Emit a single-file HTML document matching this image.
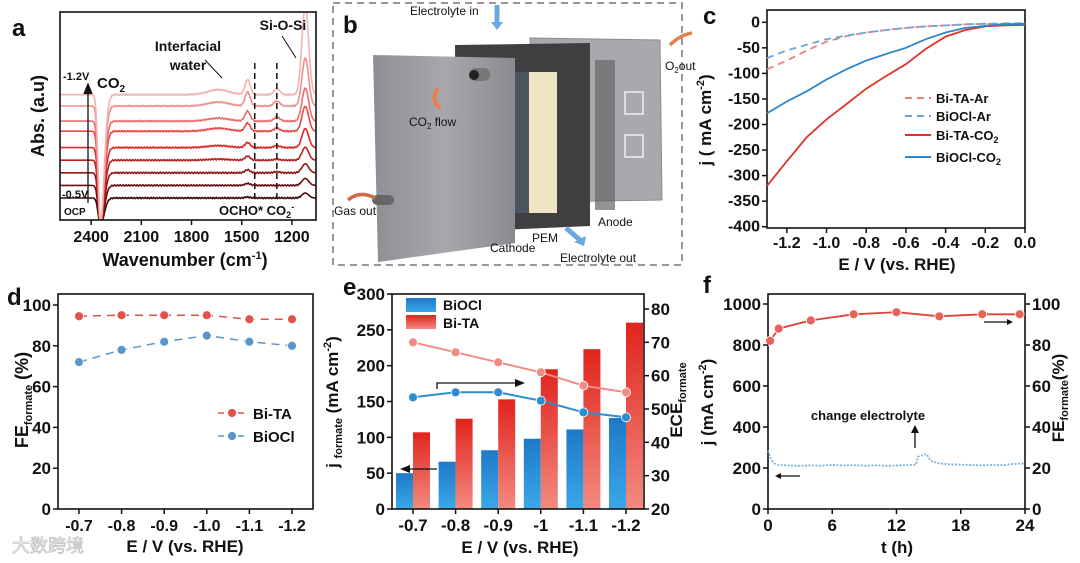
<!DOCTYPE html>
<html><head><meta charset="utf-8">
<style>
html,body{margin:0;padding:0;background:#fff;}
svg{display:block;font-family:"Liberation Sans","Noto Sans CJK SC",sans-serif;}
text{font-weight:bold;fill:#111;}
</style></head>
<body>
<svg id="fig" width="1080" height="563" viewBox="0 0 1080 563" xmlns="http://www.w3.org/2000/svg">
<defs>
<linearGradient id="gBlue" x1="0" y1="0" x2="0" y2="1"><stop offset="0" stop-color="#1f78c8"/><stop offset="1" stop-color="#3aa8e8"/></linearGradient>
<linearGradient id="gRed" x1="0" y1="0" x2="0" y2="1"><stop offset="0" stop-color="#e0241c"/><stop offset="1" stop-color="#f48a80"/></linearGradient>
<linearGradient id="gPlate" x1="0" y1="0" x2="1" y2="0"><stop offset="0" stop-color="#8e8e94"/><stop offset="0.5" stop-color="#a7a7ac"/><stop offset="1" stop-color="#8a8a90"/></linearGradient>
<clipPath id="clipA"><rect x="60" y="12" width="256" height="208"/></clipPath>
</defs>
<g>
<rect x="333" y="3" width="349" height="262" fill="none" stroke="#777" stroke-width="1.5" stroke-dasharray="7,5"/>
<polygon points="530,38 660,40 662,200 540,202" fill="#a8a8ad" stroke="#8a8a90"/>
<rect x="625" y="92" width="18" height="22" fill="none" stroke="#eee" stroke-width="1.5"/>
<rect x="625" y="135" width="18" height="22" fill="none" stroke="#eee" stroke-width="1.5"/>
<rect x="595" y="60" width="20" height="150" fill="#666" opacity="0.7"/>
<polygon points="455,45 590,43 590,226 456,232" fill="#3f3f42"/>
<rect x="529" y="72" width="28" height="141" fill="#efe4c4"/>
<rect x="515" y="72" width="14" height="141" fill="#4a5560"/>
<polygon points="373,55 515,58 515,243 378,262" fill="url(#gPlate)"/>
<rect x="470" y="68" width="20" height="13" rx="6" fill="#777"/><circle cx="474" cy="75" r="5" fill="#222"/>
<rect x="372" y="195" width="22" height="10" rx="5" fill="#666"/>
<path d="M438,88 Q430,100 440,108" stroke="#e8804e" stroke-width="4" fill="none"/>
<path d="M375,198 Q360,190 348,200" stroke="#d56a4a" stroke-width="3.5" fill="none"/>
<path d="M670,45 Q680,35 692,33" stroke="#e8804e" stroke-width="3.5" fill="none"/>
<path d="M497,5 L497,25" stroke="#6aa8e0" stroke-width="5"/><polygon points="491,22 503,22 497,30" fill="#6aa8e0"/>
<path d="M566,228 L580,240" stroke="#6aa8e0" stroke-width="5"/><polygon points="574,242 586,236 584,246" fill="#6aa8e0"/>
<text x="410" y="15" font-size="12" style="font-weight:normal" fill="#555">Electrolyte in</text>
<text x="409" y="126" font-size="12" style="font-weight:normal" fill="#555">CO<tspan font-size="8" dy="3">2</tspan><tspan dy="-3"> flow</tspan></text>
<text x="334" y="215" font-size="12" style="font-weight:normal" fill="#555">Gas out</text>
<text x="490" y="252" font-size="12" style="font-weight:normal" fill="#555">Cathode</text>
<text x="532" y="242" font-size="12" style="font-weight:normal" fill="#555">PEM</text>
<text x="598" y="226" font-size="12" style="font-weight:normal" fill="#555">Anode</text>
<text x="560" y="262" font-size="12" style="font-weight:normal" fill="#555">Electrolyte out</text>
<text x="665" y="70" font-size="12" style="font-weight:normal" fill="#555">O<tspan font-size="8" dy="3">2</tspan><tspan dy="-3">out</tspan></text>
</g>
</svg>
<script>
// ---------- DATA ----------
const aOffsets = [0, 1, 2, 3, 4, 5.3, 6.1, 7.3, 8.2];
const aDip = [27, 40, 52, 63, 75, 92, 102, 118, 130];
const aPeak1450 = [1, 2, 3, 4, 5, 8, 10, 14, 15];
const aPeak1290 = [0, 0, 1, 1, 2, 3, 4, 5, 6];
const aPeakSiO = [5, 7, 9, 13, 19, 25, 33, 48, 90];
const aHump = [0, 0, 0, 1, 2, 3, 3, 4, 5];
const aXTicks = [2400, 2100, 1800, 1500, 1200];
const cE = [-1.3, -1.2, -1.1, -1.0, -0.9, -0.8, -0.7, -0.6, -0.5, -0.4, -0.3, -0.2, -0.1, 0];
const cBiTACO2 = [-320, -272, -225, -190, -160, -130, -105, -82, -52, -28, -15, -8, -6, -5];
const cBiOClCO2 = [-178, -155, -135, -112, -92, -75, -62, -50, -33, -20, -11, -7, -4, -3];
const cBiTAAr = [-92, -75, -55, -38, -27, -20, -15, -11, -8, -6, -4, -3, -3, -3];
const cBiOClAr = [-70, -55, -44, -33, -26, -20, -15, -11, -8, -6, -4, -3, -2, -2];
const cYTicks = [0, -50, -100, -150, -200, -250, -300, -350, -400];
const cXTicks = [-1.2, -1.0, -0.8, -0.6, -0.4, -0.2, 0.0];
const dCats = ['-0.7', '-0.8', '-0.9', '-1.0', '-1.1', '-1.2'];
const dBiTA = [94.5, 95, 95, 95, 93, 93];
const dBiOCl = [72, 78, 82, 85, 82, 80];
const dYTicks = [0, 20, 40, 60, 80, 100];
const eCats = ['-0.7', '-0.8', '-0.9', '-1', '-1.1', '-1.2'];
const eJBiOCl = [50, 66, 82, 98, 111, 127];
const eJBiTA = [107, 126, 153, 195, 223, 260];
const eECEBiTA = [70, 67, 64, 61, 57, 55];
const eECEBiOCl = [53.5, 55, 55, 52.5, 49, 47.5];
const eYTicks = [0, 50, 100, 150, 200, 250, 300];
const eY2Ticks = [20, 30, 40, 50, 60, 70, 80];
const fTFE = [0.2, 1, 4, 8, 12, 16, 20, 23.5];
const fFE = [82, 88, 92, 95, 96, 94, 95, 95];
const fTj = [0, 0.3, 0.6, 1, 2, 3, 4, 5, 6, 7, 8, 9, 10, 11, 12, 13, 13.8, 14, 14.4, 14.8, 15.2, 16, 17, 18, 19, 20, 21, 22, 23, 24];
const fJ = [285, 240, 222, 215, 212, 210, 213, 211, 215, 212, 214, 211, 213, 210, 212, 214, 215, 255, 262, 268, 235, 222, 218, 216, 214, 213, 215, 214, 220, 222];
const fXTicks = [0, 6, 12, 18, 24];
const fYTicks = [0, 200, 400, 600, 800, 1000];
const fY2Ticks = [0, 20, 40, 60, 80, 100];

// ---------- HELPERS ----------
const NS = 'http://www.w3.org/2000/svg';
const svg = document.getElementById('fig');
function mk(tag, attrs, parent) {
  const e = document.createElementNS(NS, tag);
  for (const k in attrs) e.setAttribute(k, attrs[k]);
  (parent || svg).appendChild(e);
  return e;
}
function lin(d0, d1, r0, r1) { return v => r0 + (v - d0) * (r1 - r0) / (d1 - d0); }
function txt(x, y, s, size, anchor, parent) {
  const t = mk('text', { x: x, y: y, 'font-size': size, 'text-anchor': anchor || 'middle' }, parent);
  t.textContent = s;
  return t;
}
function frame(x0, y0, x1, y1, g) {
  const r = mk('rect', { x: x0, y: y0, width: x1 - x0, height: y1 - y0, fill: 'none', stroke: '#111', 'stroke-width': 1.6 }, g);
  
  
}
function pathD(xs, ys, sx, sy) { return xs.map((v, i) => (i ? 'L' : 'M') + sx(v).toFixed(1) + ',' + sy(ys[i]).toFixed(1)).join(' '); }
function group(name) {
  const g = mk('g', {});
  
  
  return g;
}
function label(x, y, s, size, anchor, g, name) {
  const t = txt(x, y, s, size, anchor, g);
  
  
  return t;
}
function rotTitle(x, y, html, size, g, name) {
  const t = mk('text', { x: 0, y: 0, 'font-size': size, 'text-anchor': 'middle', transform: 'translate(' + x + ',' + y + ') rotate(-90)' }, g);
  t.innerHTML = html;
  
  
  return t;
}
function marker(cx, cy, fill, g, name) {
  const c = mk('circle', { cx: cx, cy: cy, r: 4.5, fill: fill, stroke: '#fff', 'stroke-width': 0.8 }, g);
  
  
}

// ---------- PANEL A ----------
(function () {
  const g = group('panel-a-ftir');
  const sx = lin(2586, 1056, 60, 316);
  const gs = (x, c, w) => Math.exp(-((x - c) / w) * ((x - c) / w));
  const cg = mk('g', { 'clip-path': 'url(#clipA)' }, g);
  const n = aOffsets.length;
  for (let i = 0; i < n; i++) {
    const base = 198 - aOffsets[i] * 12.6;
    const t = i / (n - 1);
    let r, gg, b;
    if (t < 0.5) { const u = t / 0.5; r = 60 + u * 165; gg = 8 + u * 30; b = 8 + u * 30; }
    else { const u = (t - 0.5) / 0.5; r = 225 + u * 17; gg = 38 + u * 140; b = 38 + u * 140; }
    let d = '';
    for (let w = 2586; w >= 1056; w -= 5) {
      const dip = w > 2345 ? aDip[i] * gs(w, 2345, 18) : aDip[i] * gs(w, 2345, 32);
      const y = base + dip - aPeak1450[i] * gs(w, 1465, 22) - aPeak1290[i] * gs(w, 1290, 25)
        - aPeakSiO[i] * gs(w, 1120, 28) - aHump[i] * gs(w, 1640, 90) - (w < 2300 && w > 1150 ? 0.6 * Math.sin(w * 0.37 + i) : 0);
      d += (d ? 'L' : 'M') + sx(w).toFixed(1) + ',' + y.toFixed(1);
    }
    const p = mk('path', { d: d, fill: 'none', stroke: 'rgb(' + Math.round(r) + ',' + Math.round(gg) + ',' + Math.round(b) + ')', 'stroke-width': 1.6 }, cg);
    
    
  }
  [1422, 1290].forEach(w => {
    const l = mk('line', { x1: sx(w), x2: sx(w), y1: 63, y2: 200, stroke: '#111', 'stroke-width': 1.5, 'stroke-dasharray': '6,4' }, g);
    
    
  });
  frame(60, 12, 316, 220, g);
  aXTicks.forEach(v => {
    mk('line', { x1: sx(v), x2: sx(v), y1: 220, y2: 225, stroke: '#111', 'stroke-width': 1.5 }, g);
    label(sx(v), 242, String(v), 16, 'middle', g, 'x-tick-label');
  });
  const ar = mk('path', { d: 'M88,203 L88,86 M84,94 L88,84 L92,94', stroke: '#111', 'stroke-width': 1.3, fill: '#111' }, g);
  
  
  label(63, 80, '-1.2V', 11, 'start', g, 'label-1.2v');
  label(62, 198, '-0.5V', 11, 'start', g, 'label-0.5v');
  label(64, 215, 'OCP', 10, 'start', g, 'label-ocp');
  const co = label(97, 88, 'CO', 15, 'start', g, 'label-co2');
  co.innerHTML = 'CO<tspan font-size="10" dy="4">2</tspan>';
  label(188, 51, 'Interfacial', 14, 'middle', g, 'label-interfacial');
  label(188, 70, 'water', 14, 'middle', g, 'label-water');
  mk('path', { d: 'M205,60 L222,78', stroke: '#111', 'stroke-width': 1 }, g);
  label(283, 30, 'Si-O-Si', 14, 'middle', g, 'label-sio');
  mk('path', { d: 'M282,36 L296,58', stroke: '#111', 'stroke-width': 1 }, g);
  const oc = label(219, 215, '', 13, 'start', g, 'label-ocho-co2');
  oc.innerHTML = 'OCHO* CO<tspan font-size="9" dy="3">2</tspan><tspan font-size="9" dy="-8">-</tspan>';
  rotTitle(44, 116, 'Abs. (a.u)', 18, g, 'y-axis-title');
  const xt = label(185, 266, '', 18, 'middle', g, 'x-axis-title');
  xt.innerHTML = 'Wavenumber (cm<tspan font-size="11" dy="-7">-1</tspan><tspan dy="7">)</tspan>';
  label(12, 36, 'a', 24, 'start', g, 'panel-label-a');
  label(343, 33, 'b', 24, 'start', g, 'panel-label-b');
})();

// ---------- PANEL C ----------
(function () {
  const g = group('panel-c-lsv');
  const sx = lin(-1.3, 0, 767, 1025);
  const sy = lin(0, -400, 22.3, 226.7);
  frame(767, 10, 1025, 228, g);
  cYTicks.forEach(v => {
    mk('line', { x1: 762, x2: 767, y1: sy(v), y2: sy(v), stroke: '#111', 'stroke-width': 1.5 }, g);
    label(760, sy(v) + 5, String(v), 16, 'end', g, 'y-tick-label');
  });
  cXTicks.forEach(v => {
    mk('line', { x1: sx(v), x2: sx(v), y1: 228, y2: 233, stroke: '#111', 'stroke-width': 1.5 }, g);
    label(sx(v), 248, v.toFixed(1), 16, 'middle', g, 'x-tick-label');
  });
  const series = [[cBiTAAr, '#e88080', '7,5', 'bi-ta-ar-line'], [cBiOClAr, '#6aa6d8', '7,5', 'biocl-ar-line'],
    [cBiTACO2, '#e0342a', '', 'bi-ta-co2-line'], [cBiOClCO2, '#2e86c8', '', 'biocl-co2-line']];
  series.forEach(s => {
    const p = mk('path', { d: pathD(cE, s[0], sx, sy), fill: 'none', stroke: s[1], 'stroke-width': 1.8, 'stroke-dasharray': s[2] }, g);
    
    
  });
  const names = ['Bi-TA-Ar', 'BiOCl-Ar', 'Bi-TA-CO<tspan font-size="9" dy="3">2</tspan>', 'BiOCl-CO<tspan font-size="9" dy="3">2</tspan>'];
  const ly = [98, 116, 135, 157];
  series.forEach((s, i) => {
    const l = mk('line', { x1: 905, x2: 931, y1: ly[i], y2: ly[i], stroke: s[1], 'stroke-width': 2, 'stroke-dasharray': s[2] }, g);
    
    
    const t = label(936, ly[i] + 5, '', 13, 'start', g, 'legend-entry');
    t.innerHTML = names[i];
  });
  const yt = rotTitle(711, 120, '', 17, g, 'y-axis-title');
  yt.innerHTML = 'j ( mA cm<tspan font-size="11" dy="-7">-2</tspan><tspan dy="7">)</tspan>';
  label(897, 270, 'E / V (vs. RHE)', 17, 'middle', g, 'x-axis-title');
  label(703, 24, 'c', 24, 'start', g, 'panel-label-c');
})();

// ---------- PANEL D ----------
(function () {
  const g = group('panel-d-fe');
  const sx = i => 79 + i * 42.6;
  const sy = lin(0, 100, 509, 305);
  frame(58, 294, 313, 509, g);
  dYTicks.forEach(v => {
    mk('line', { x1: 53, x2: 58, y1: sy(v), y2: sy(v), stroke: '#111', 'stroke-width': 1.5 }, g);
    label(51, sy(v) + 6, String(v), 17, 'end', g, 'y-tick-label');
  });
  dCats.forEach((c, i) => {
    mk('line', { x1: sx(i), x2: sx(i), y1: 509, y2: 514, stroke: '#111', 'stroke-width': 1.5 }, g);
    label(sx(i), 531, c, 16, 'middle', g, 'x-tick-label');
  });
  const idx = dCats.map((c, i) => i);
  [[dBiTA, '#e0524a', 'bi-ta-fe'], [dBiOCl, '#5a96cc', 'biocl-fe']].forEach(s => {
    const p = mk('path', { d: pathD(idx, s[0], sx, sy), fill: 'none', stroke: s[1], 'stroke-width': 1.5, 'stroke-dasharray': '8,6' }, g);
    
    
    s[0].forEach((v, i) => marker(sx(i), sy(v), s[1], g, s[2] + '-point'));
  });
  mk('line', { x1: 218, x2: 246, y1: 413, y2: 413, stroke: '#e0524a', 'stroke-width': 1.5, 'stroke-dasharray': '6,4' }, g);
  marker(232, 413, '#e0524a', g, 'legend-marker-bi-ta');
  label(253, 419, 'Bi-TA', 15, 'start', g, 'legend-entry-bi-ta');
  mk('line', { x1: 218, x2: 246, y1: 436, y2: 436, stroke: '#5a96cc', 'stroke-width': 1.5, 'stroke-dasharray': '6,4' }, g);
  marker(232, 436, '#5a96cc', g, 'legend-marker-biocl');
  label(253, 442, 'BiOCl', 15, 'start', g, 'legend-entry-biocl');
  const yt = rotTitle(28, 400, '', 18, g, 'y-axis-title');
  yt.innerHTML = 'FE<tspan font-size="11" dy="4">formate</tspan><tspan dy="-4"> (%)</tspan>';
  label(185, 552, 'E / V (vs. RHE)', 17, 'middle', g, 'x-axis-title');
  label(7, 305, 'd', 24, 'start', g, 'panel-label-d');
  const wm = label(12, 552, '大数跨境', 18, 'start', g, 'watermark');
  wm.setAttribute('stroke', '#bbb');
  wm.setAttribute('stroke-width', '0.8');
  wm.setAttribute('style', 'fill:#fff;font-weight:normal;opacity:0.9');
})();

// ---------- PANEL E ----------
(function () {
  const g = group('panel-e-current-ece');
  const sx = i => 413 + i * 42.6;
  const sy = lin(0, 300, 509, 294);
  const sy2 = lin(20, 80, 509, 309);
  eJBiOCl.forEach((v, i) => {
    const r = mk('rect', { x: sx(i) - 17, y: sy(v), width: 17, height: 509 - sy(v), fill: 'url(#gBlue)' }, g);
    
    
  });
  eJBiTA.forEach((v, i) => {
    const r = mk('rect', { x: sx(i), y: sy(v), width: 17, height: 509 - sy(v), fill: 'url(#gRed)' }, g);
    
    
  });
  const idx = eCats.map((c, i) => i);
  [[eECEBiTA, '#f08c84', 'ece-bi-ta'], [eECEBiOCl, '#2a8ed0', 'ece-biocl']].forEach(s => {
    const p = mk('path', { d: pathD(idx, s[0], sx, sy2), fill: 'none', stroke: s[1], 'stroke-width': 2 }, g);
    
    
    s[0].forEach((v, i) => marker(sx(i), sy2(v), s[1], g, s[2] + '-point'));
  });
  frame(392, 294, 644, 509, g);
  eYTicks.forEach(v => {
    mk('line', { x1: 387, x2: 392, y1: sy(v), y2: sy(v), stroke: '#111', 'stroke-width': 1.5 }, g);
    label(385, sy(v) + 6, String(v), 17, 'end', g, 'y-tick-label');
  });
  eY2Ticks.forEach(v => {
    mk('line', { x1: 644, x2: 649, y1: sy2(v), y2: sy2(v), stroke: '#111', 'stroke-width': 1.5 }, g);
    label(651, sy2(v) + 6, String(v), 17, 'start', g, 'y2-tick-label');
  });
  eCats.forEach((c, i) => {
    mk('line', { x1: sx(i), x2: sx(i), y1: 509, y2: 514, stroke: '#111', 'stroke-width': 1.5 }, g);
    label(sx(i), 531, c, 17, 'middle', g, 'x-tick-label');
  });
  const lb = mk('rect', { x: 406, y: 298, width: 30, height: 14, fill: 'url(#gBlue)' }, g);
  
  
  const lr = mk('rect', { x: 406, y: 315, width: 30, height: 14, fill: 'url(#gRed)' }, g);
  
  
  label(443, 310, 'BiOCl', 14, 'start', g, 'legend-entry-biocl');
  label(443, 328, 'Bi-TA', 14, 'start', g, 'legend-entry-bi-ta');
  mk('path', { d: 'M437,389 L437,383 L515,383', stroke: '#111', 'stroke-width': 1.3, fill: 'none' }, g);
  mk('polygon', { points: '515,379 525,383 515,387', fill: '#111' }, g);
  mk('path', { d: 'M437,469 L410,469', stroke: '#111', 'stroke-width': 1.3 }, g);
  mk('polygon', { points: '410,465 400,469 410,473', fill: '#111' }, g);
  const yt = rotTitle(338, 402, '', 17, g, 'y-axis-title');
  yt.innerHTML = 'j <tspan font-size="11" dy="4">formate</tspan><tspan dy="-4"> (mA cm</tspan><tspan font-size="11" dy="-7">-2</tspan><tspan dy="7">)</tspan>';
  const yt2 = rotTitle(682, 400, '', 17, g, 'y2-axis-title');
  yt2.innerHTML = 'ECE<tspan font-size="11" dy="4">formate</tspan>';
  label(520, 553, 'E / V (vs. RHE)', 17, 'middle', g, 'x-axis-title');
  label(343, 295, 'e', 24, 'start', g, 'panel-label-e');
})();

// ---------- PANEL F ----------
(function () {
  const g = group('panel-f-stability');
  const sx = lin(0, 24, 768, 1025);
  const sy = lin(0, 1000, 509, 304);
  const sy2 = lin(0, 100, 509, 304);
  frame(768, 294, 1025, 509, g);
  const jp = mk('path', { d: pathD(fTj, fJ, sx, sy), fill: 'none', stroke: '#7fb3d8', 'stroke-width': 1.8, 'stroke-dasharray': '2,1.5' }, g);
  
  
  const fp = mk('path', { d: pathD(fTFE, fFE, sx, sy2), fill: 'none', stroke: '#e0423a', 'stroke-width': 1.8 }, g);
  
  
  fFE.forEach((v, i) => marker(sx(fTFE[i]), sy2(v), '#e8625a', g, 'fe-point'));
  fYTicks.forEach(v => {
    mk('line', { x1: 763, x2: 768, y1: sy(v), y2: sy(v), stroke: '#111', 'stroke-width': 1.5 }, g);
    label(761, sy(v) + 6, String(v), 17, 'end', g, 'y-tick-label');
  });
  fY2Ticks.forEach(v => {
    mk('line', { x1: 1025, x2: 1030, y1: sy2(v), y2: sy2(v), stroke: '#111', 'stroke-width': 1.5 }, g);
    label(1032, sy2(v) + 6, String(v), 17, 'start', g, 'y2-tick-label');
  });
  fXTicks.forEach(v => {
    mk('line', { x1: sx(v), x2: sx(v), y1: 509, y2: 514, stroke: '#111', 'stroke-width': 1.5 }, g);
    label(sx(v), 531, String(v), 17, 'middle', g, 'x-tick-label');
  });
  label(868, 420, 'change electrolyte', 13, 'middle', g, 'annotation-change-electrolyte');
  mk('path', { d: 'M915,448 L915,430', stroke: '#111', 'stroke-width': 1.3 }, g);
  mk('polygon', { points: '911,433 915,425 919,433', fill: '#111' }, g);
  mk('path', { d: 'M800,476 L780,476', stroke: '#111', 'stroke-width': 1.3 }, g);
  mk('polygon', { points: '781,473 775,476 781,479', fill: '#111' }, g);
  mk('path', { d: 'M984,322 L1008,322', stroke: '#111', 'stroke-width': 1.3 }, g);
  mk('polygon', { points: '1007,319 1013,322 1007,325', fill: '#111' }, g);
  const yt = rotTitle(713, 402, '', 17, g, 'y-axis-title');
  yt.innerHTML = 'j (mA cm<tspan font-size="11" dy="-7">-2</tspan><tspan dy="7">)</tspan>';
  const yt2 = rotTitle(1064, 398, '', 17, g, 'y2-axis-title');
  yt2.innerHTML = 'FE<tspan font-size="11" dy="4">formate</tspan><tspan dy="-4">(%)</tspan>';
  label(897, 553, 't (h)', 17, 'middle', g, 'x-axis-title');
  label(703, 293, 'f', 24, 'start', g, 'panel-label-f');
})();
</script>
</body></html>
